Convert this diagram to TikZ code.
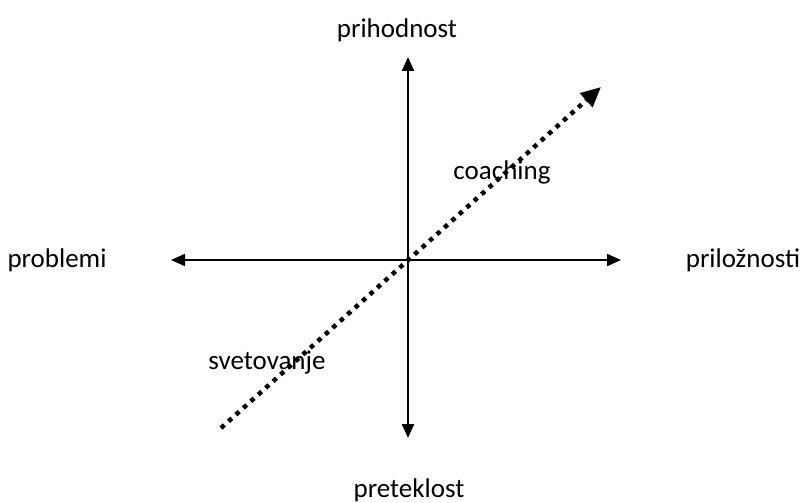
\documentclass[tikz,border=0pt]{standalone}
\usepackage{fontspec}
\setmainfont{Carlito}
\usetikzlibrary{arrows.meta}
\begin{document}
\begin{tikzpicture}[x=1pt,y=-1pt,
  axis/.style={line width=2.2pt,-{Triangle[length=14pt,width=12pt]}},
  diag/.style={line width=4.5pt,dash pattern=on 4.5pt off 5.5pt,-{Triangle[length=20pt,width=18pt]}},
  lbl/.style={font=\fontsize{27}{32}\selectfont,inner sep=0pt}]
\useasboundingbox (0,0) rectangle (803,503);
\coordinate (c) at (408,260);
\coordinate (top) at (408,57);
\coordinate (bot) at (408,438);
\coordinate (lft) at (171,260);
\coordinate (rgt) at (621,260);
\coordinate (ds) at (221,428);
\coordinate (de) at (601,87);
\draw[axis] (c) -- (top);
\draw[axis] (c) -- (bot);
\draw[axis] (c) -- (lft);
\draw[axis] (c) -- (rgt);
\draw[diag] (ds) -- (de);
\node[lbl] (n1) at (397,30) {prihodnost};
\node[lbl] (n2) at (409,490) {preteklost};
\node[lbl] (n3) at (57,260) {problemi};
\node[lbl] (n4) at (743,260) {priložnosti};
\node[lbl] (n5) at (502,172) {coaching};
\node[lbl] (n6) at (267,363) {svetovanje};
\end{tikzpicture}
\end{document}
